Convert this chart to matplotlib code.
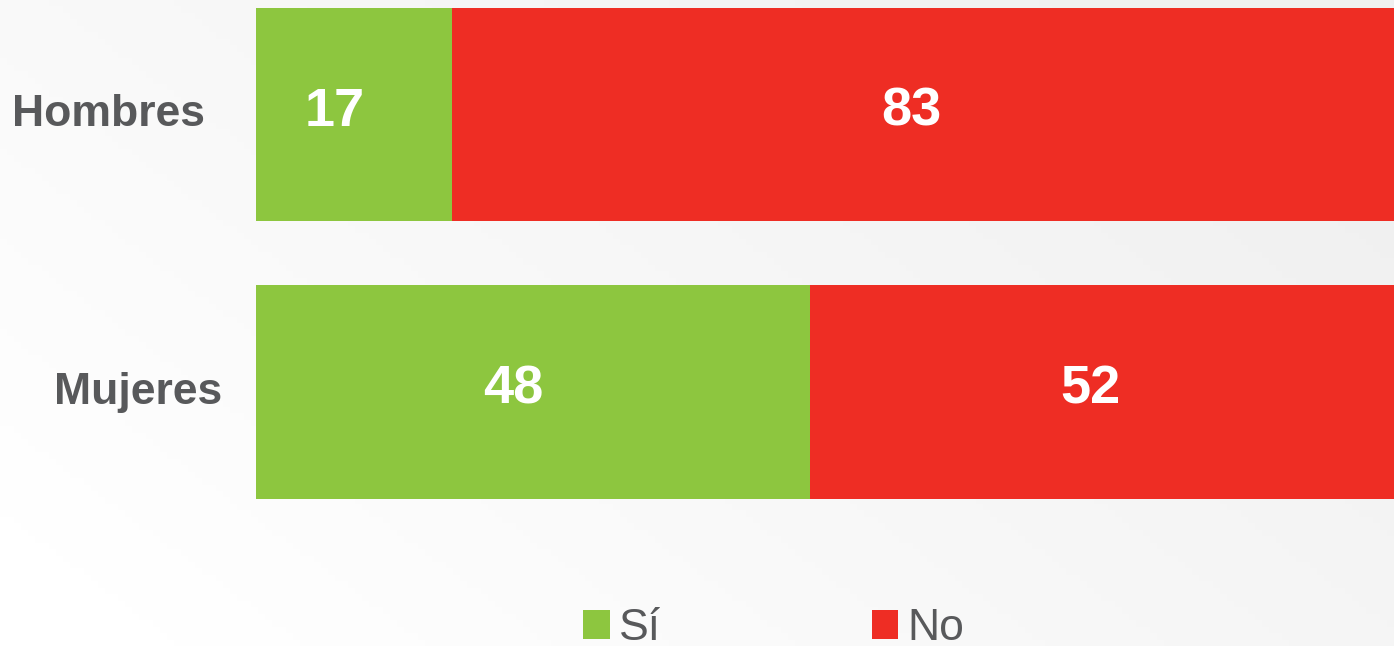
import numpy as np
import matplotlib
matplotlib.use("Agg")
import matplotlib.pyplot as plt
from matplotlib.patches import Patch

# ── Data ───────────────────────────────────────────────────────────────────────
groups  = ["Hombres", "Mujeres"]
si_vals = [17, 48]
no_vals = [83, 52]
series_labels = ["Sí", "No"]

GREEN = "#8dc63f"
RED   = "#ee2d24"
GREY  = "#58595b"

plt.rcParams["font.family"] = ["Liberation Sans", "DejaVu Sans"]

fig = plt.figure(figsize=(13.94, 6.46), dpi=100)

# ── Soft background gradient ──────────────────────────────────────────────────
bg = fig.add_axes([0, 0, 1, 1], zorder=-10)
gx, gy = np.meshgrid(np.linspace(0, 1, 200), np.linspace(0, 1, 100))
shade = 1.0 - 0.055 * np.clip(0.8 * gx + 0.5 * gy - 0.1, 0, 1)
bg.imshow(np.dstack([shade, shade, shade]), extent=[0, 1, 0, 1],
          aspect="auto", origin="lower")
bg.set_axis_off()

# ── Bars ───────────────────────────────────────────────────────────────────────
ax = fig.add_axes([256 / 1394, 0.1784, 1154 / 1394, 0.859])
ax.patch.set_alpha(0)
ypos = np.arange(len(groups))
ax.barh(ypos, si_vals, height=0.768, color=GREEN, edgecolor="none")
ax.barh(ypos, no_vals, left=si_vals, height=0.768, color=RED, edgecolor="none")
ax.set_xlim(0, 100)
ax.set_ylim(1.5, -0.5)
ax.set_axis_off()

for y, s, n in zip(ypos, si_vals, no_vals):
    for left, w in ((0, s), (s, n)):
        ax.annotate(str(w), (left + w / 2, y), xytext=(-14, 2),
                    textcoords="offset points", ha="center", va="center",
                    color="white", fontsize=39, fontweight="bold")

label_x = [-0.0442, -0.0295]
for y, name, lx in zip(ypos, groups, label_x):
    ax.text(lx, y, name, transform=ax.get_yaxis_transform(),
            ha="right", va="center", color=GREY, fontsize=32,
            fontweight="bold")

# ── Legend ─────────────────────────────────────────────────────────────────────
handles = [Patch(facecolor=GREEN, edgecolor="none", label=series_labels[0]),
           Patch(facecolor=RED, edgecolor="none", label=series_labels[1])]
leg = fig.legend(handles=handles, loc="center left", ncol=2,
                 bbox_to_anchor=(583 / 1394, 0.027), frameon=False,
                 fontsize=32, handlelength=0.6, handleheight=0.6,
                 handletextpad=0.2, columnspacing=4.75, borderpad=0,
                 borderaxespad=0)
for t in leg.get_texts():
    t.set_color(GREY)

fig.savefig("out.png", dpi=100)
